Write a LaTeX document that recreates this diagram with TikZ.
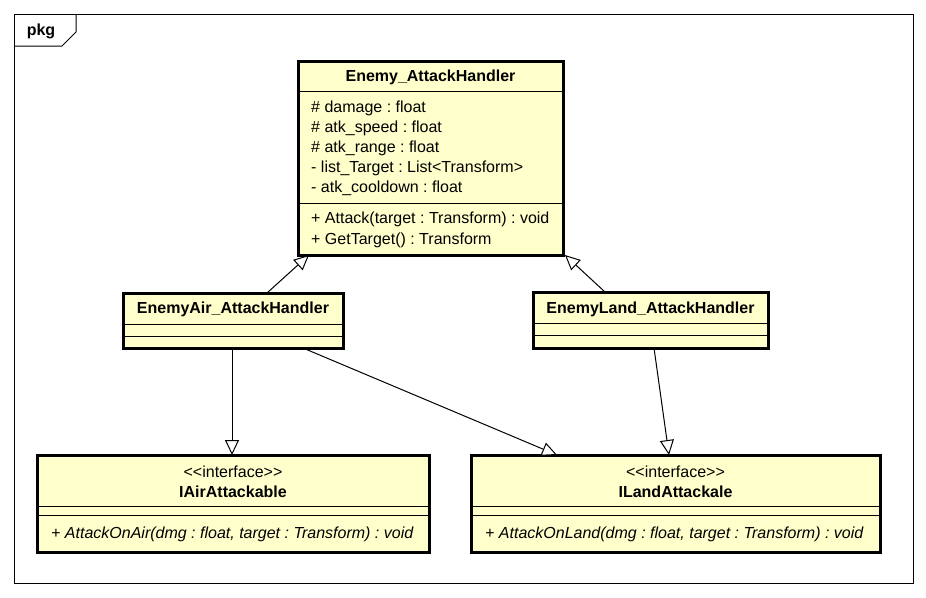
\documentclass[tikz,border=0pt]{standalone}
\usepackage{fontspec}
\setmainfont{Liberation Sans}[Ligatures=TeXOff]
\usetikzlibrary{arrows.meta,calc}
\definecolor{umlfill}{HTML}{FFFFCC}
\frenchspacing
\tikzset{
  classbox/.style={draw=black, line width=3pt, fill=umlfill, inner sep=0pt, outer sep=0pt, rectangle},
  sepline/.style={draw=black, line width=1pt},
  ctitle/.style={font=\fontsize{16}{20}\selectfont\bfseries, inner sep=0pt, anchor=center},
  cstereo/.style={font=\fontsize{16}{20}\selectfont, inner sep=0pt, anchor=center},
  member/.style={font=\fontsize{16}{20}\selectfont, inner sep=0pt, anchor=west},
  imember/.style={font=\fontsize{16}{20}\selectfont\itshape, inner sep=0pt, anchor=west},
  gen/.style={draw=black, line width=1pt, -{Triangle[length=15pt, width=14pt, fill=white, line width=1pt]}},
}
\begin{document}
\begin{tikzpicture}[x=1pt, y=-1pt]
\useasboundingbox (0,0) rectangle (926,597);
% package frame
\draw[line width=1pt] (14,14) rectangle (913,583);
\draw[line width=1pt] (14,46) -- (62,46) -- (76,32) -- (76,14);
\node[font=\fontsize{16}{18}\selectfont\bfseries, inner sep=0pt] (pkg) at (41,31) {pkg};

% Enemy_AttackHandler
\node[classbox, minimum width=265pt, minimum height=194pt] (enemy) at (430.5,158) {};
\node[ctitle] (enemyT) at (430.5,77) {Enemy\_AttackHandler};
\draw[sepline] ($(enemy.north west)+(0,30)$) -- ($(enemy.north east)+(0,30)$);
\draw[sepline] ($(enemy.north west)+(0,142)$) -- ($(enemy.north east)+(0,142)$);
\node[member] (a1) at (311,108) {\# damage : float};
\node[member] (a2) at (311,128) {\# atk\_speed : float};
\node[member] (a3) at (311,148) {\# atk\_range : float};
\node[member] (a4) at (311,168) {- list\_Target : List<Transform>};
\node[member] (a5) at (311,188) {- atk\_cooldown : float};
\node[member] (m1) at (311,219) {+ Attack(target : Transform) : void};
\node[member] (m2) at (311,240) {+ GetTarget() : Transform};

% EnemyAir_AttackHandler
\node[classbox, minimum width=220pt, minimum height=55pt] (air) at (233,320.5) {};
\node[ctitle] (airT) at (233,309) {EnemyAir\_AttackHandler};
\draw[sepline] ($(air.north west)+(0,31)$) -- ($(air.north east)+(0,31)$);
\draw[sepline] ($(air.north west)+(0,43)$) -- ($(air.north east)+(0,43)$);

% EnemyLand_AttackHandler
\node[classbox, minimum width=235pt, minimum height=56pt] (land) at (650.5,320) {};
\node[ctitle] (landT) at (650.5,309) {EnemyLand\_AttackHandler};
\draw[sepline] ($(land.north west)+(0,31)$) -- ($(land.north east)+(0,31)$);
\draw[sepline] ($(land.north west)+(0,43)$) -- ($(land.north east)+(0,43)$);

% IAirAttackable
\node[classbox, minimum width=392pt, minimum height=97pt] (iair) at (233,503.5) {};
\node[cstereo] (iairS) at (233,472) {<<interface>>};
\node[ctitle] (iairT) at (233,492) {IAirAttackable};
\draw[sepline] ($(iair.north west)+(0,51)$) -- ($(iair.north east)+(0,51)$);
\draw[sepline] ($(iair.north west)+(0,60)$) -- ($(iair.north east)+(0,60)$);
\node[imember] (iairM) at (51,534) {+ AttackOnAir(dmg : float, target : Transform) : void};

% ILandAttackale
\node[classbox, minimum width=409pt, minimum height=97pt] (iland) at (675.5,503.5) {};
\node[cstereo] (ilandS) at (675.5,472) {<<interface>>};
\node[ctitle] (ilandT) at (675.5,492) {ILandAttackale};
\draw[sepline] ($(iland.north west)+(0,51)$) -- ($(iland.north east)+(0,51)$);
\draw[sepline] ($(iland.north west)+(0,60)$) -- ($(iland.north east)+(0,60)$);
\node[imember] (ilandM) at (485,534) {+ AttackOnLand(dmg : float, target : Transform) : void};

% generalizations / realizations
\draw[gen] ($(air.north west)+(144,0)$) -- ($(enemy.south west)+(11,0)$);
\draw[gen] ($(land.north west)+(72,0)$) -- ($(enemy.south east)+(2,0)$);
\draw[gen] ($(air.south west)+(109,0)$) -- ($(iair.north west)+(195,0)$);
\draw[gen] ($(air.south west)+(180,0)$) -- ($(iland.north west)+(86,0)$);
\draw[gen] ($(land.south west)+(121,0)$) -- ($(iland.north west)+(198,0)$);
\end{tikzpicture}
\end{document}
